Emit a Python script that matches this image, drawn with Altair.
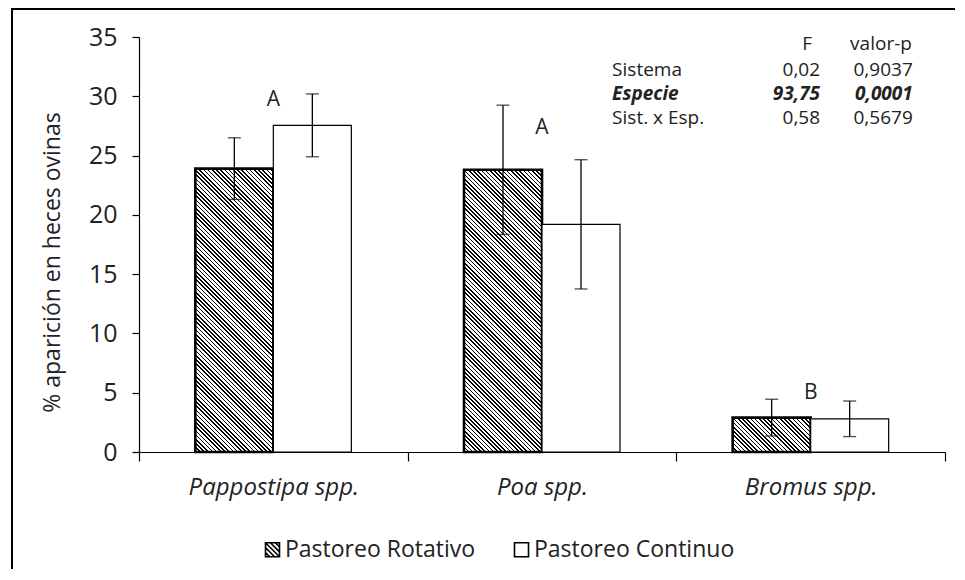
import math
import altair as alt
import pandas as pd

# ---------------- data ----------------
species = ["Pappostipa spp.", "Poa spp.", "Bromus spp."]
systems = ["Pastoreo Rotativo", "Pastoreo Continuo"]
rotativo = [23.9, 23.8, 2.9]
rotativo_err = [2.6, 5.45, 1.55]
continuo = [27.55, 19.2, 2.8]
continuo_err = [2.65, 5.45, 1.5]
letters = ["A", "A", "B"]
letter_y = [29.7, 27.3, 5.0]

table_header = ["F", "valor-p"]
table_rows = ["Sistema", "Especie", "Sist. x Esp."]
table_F = ["0,02", "93,75", "0,58"]
table_p = ["0,9037", "0,0001", "0,5679"]
bold_row = "Especie"

y_title = "% aparición en heces ovinas"
y_ticks = [0, 5, 10, 15, 20, 25, 30, 35]

# ---------------- layout / style ----------------
W, H = 806, 415
YMAX = 35
FONT = "Open Sans"
TXT = "#222222"
OUTER_PAD = 0.722
BAR_W = (W / len(species)) / (2 + 2 * OUTER_PAD)

# table layout (fractions of plot width / data units of the y scale)
col_label, col_F, col_p = 0.587, 0.845, 0.960
col_F_head, col_p_head = 0.829, 0.9206
row_head_y = 34.4
row_ys = [32.22, 30.19, 28.17]

rows = []
for i, sp in enumerate(species):
    rows.append(dict(species=sp, system=systems[0], value=rotativo[i],
                     lo=rotativo[i] - rotativo_err[i], hi=rotativo[i] + rotativo_err[i]))
    rows.append(dict(species=sp, system=systems[1], value=continuo[i],
                     lo=continuo[i] - continuo_err[i], hi=continuo[i] + continuo_err[i]))
bars_df = pd.DataFrame(rows)
letters_df = pd.DataFrame(dict(species=species, letter=letters, y=letter_y))


def hatch(value, spacing=4.2, frac=0.38):
    w = BAR_W
    h = value * H / YMAX
    k = (w + h) / (w * w + h * h)
    x2, y2 = w * k, 1 - h * k
    L = (w + h) / math.sqrt(2)
    P = spacing / math.sqrt(2)
    stops = []
    i = 0
    while i * P < L:
        a = i * P / L
        b = min((i + frac) * P / L, 1.0)
        c = min((i + 1) * P / L, 1.0)
        stops += [alt.GradientStop(color="#000000", offset=round(a, 5)),
                  alt.GradientStop(color="#000000", offset=round(b, 5)),
                  alt.GradientStop(color="#ffffff", offset=round(b, 5)),
                  alt.GradientStop(color="#ffffff", offset=round(c, 5))]
        i += 1
    return alt.LinearGradient(gradient="linear", stops=stops, x1=0, y1=1, x2=x2, y2=y2)


x_enc = alt.X("species:N", sort=species, title=None,
              scale=alt.Scale(domain=species, paddingInner=0, paddingOuter=0),
              axis=alt.Axis(labelFont=FONT, labelFontStyle="italic", labelFontSize=24,
                            labelColor=TXT, labelAngle=0, labelPadding=14, tickBand="extent",
                            tickSize=9, tickColor="black", domainColor="black",
                            domainWidth=1.2, tickWidth=1.2, grid=False))
xo_enc = alt.XOffset("system:N", sort=systems,
                     scale=alt.Scale(domain=systems, paddingInner=0, paddingOuter=OUTER_PAD))
y_axis = alt.Axis(values=y_ticks, grid=False, labelFont=FONT, labelFontSize=25, labelColor=TXT,
                  labelPadding=15, tickSize=7, tickColor="black", domainColor="black",
                  domainWidth=1.2, tickWidth=1.2, titleFont=FONT, titleFontSize=23,
                  titleFontWeight="normal", titleColor=TXT, titlePadding=24, titleY=225)
y_scale = alt.Scale(domain=[0, YMAX], nice=False, zero=True)


def yq(field):
    return alt.Y(field, type="quantitative", scale=y_scale, axis=y_axis, title=y_title)


base = alt.Chart(bars_df)

cont_bars = base.transform_filter(alt.datum.system == systems[1]).mark_bar(
    fill="white", stroke="black", strokeWidth=1.2
).encode(x=x_enc, xOffset=xo_enc, y=yq("value"))

rot_layers = []
for i, sp in enumerate(species):
    rot_layers.append(
        base.transform_filter((alt.datum.system == systems[0]) & (alt.datum.species == sp))
        .mark_bar(fill=hatch(rotativo[i]), stroke="black", strokeWidth=2.6)
        .encode(x=x_enc, xOffset=xo_enc, y=yq("value"))
    )

err_rule = base.mark_rule(color="black", strokeWidth=1.3).encode(
    x=x_enc, xOffset=xo_enc, y=yq("lo"), y2="hi:Q")
cap_lo = base.mark_tick(color="black", size=13, thickness=1.3).encode(
    x=x_enc, xOffset=xo_enc, y=yq("lo"))
cap_hi = base.mark_tick(color="black", size=13, thickness=1.3).encode(
    x=x_enc, xOffset=xo_enc, y=yq("hi"))

letter_layer = alt.Chart(letters_df).mark_text(
    font=FONT, fontSize=21, color=TXT, baseline="middle", align="center"
).encode(x=x_enc, y=yq("y"), text="letter:N")

hatch_path = ("M-1,-1H1V1H-1Z M-1,-1L1,1 M-0.3,-1L1,0.3 M-1,-0.3L0.3,1 "
              "M0.4,-1L1,-0.4 M-1,0.4L-0.4,1")
square_path = "M-1,-1H1V1H-1Z"

legend_layer = base.mark_point(opacity=0, filled=False).encode(
    x=x_enc, xOffset=xo_enc, y=yq("value"),
    shape=alt.Shape("system:N", sort=systems, title=None,
                    scale=alt.Scale(domain=systems, range=[hatch_path, square_path]),
                    legend=alt.Legend(orient="none", legendX=122, legendY=501,
                                      direction="horizontal", symbolFillColor="white",
                                      symbolStrokeColor="black", symbolStrokeWidth=1.6,
                                      symbolOpacity=1, symbolSize=196, labelFont=FONT,
                                      labelFontSize=23, labelColor=TXT, labelOffset=1,
                                      labelLimit=400, columnPadding=34, padding=0))
)

frame = alt.Chart(pd.DataFrame({"f": [0]})).mark_rect(
    fillOpacity=0, stroke="black", strokeWidth=2
).encode(x=alt.value(-127), x2=alt.value(W + 60), y=alt.value(-28), y2=alt.value(H + 200))

inner = alt.layer(*rot_layers, cont_bars, err_rule, cap_lo, cap_hi, letter_layer,
                  legend_layer, frame)

# ---- statistics table ----
tx_scale = alt.Scale(domain=[0, 1])
head_df = pd.DataFrame(dict(tx=[col_F_head, col_p_head], ty=[row_head_y] * 2, t=table_header))
lab_df = pd.DataFrame(dict(tx=[col_label] * 3, ty=row_ys, t=table_rows, row=table_rows))
num_df = pd.DataFrame(dict(tx=[col_F] * 3 + [col_p] * 3, ty=row_ys * 2, t=table_F + table_p,
                           row=table_rows * 2))


def tlayer(df, align, bold=None):
    kw = dict(font=FONT, fontSize=19, color=TXT, baseline="middle", align=align)
    d = alt.Chart(df)
    if bold is True:
        kw.update(fontWeight="bold", fontStyle="italic")
        d = d.transform_filter(alt.datum.row == bold_row)
    elif bold is False:
        d = d.transform_filter(alt.datum.row != bold_row)
    return d.mark_text(**kw).encode(
        x=alt.X("tx:Q", scale=tx_scale, axis=None), y=yq("ty"), text="t:N")


t_head = tlayer(head_df, "center")
t_lab = tlayer(lab_df, "left", False)
t_lab_b = tlayer(lab_df, "left", True)
t_num = tlayer(num_df, "right", False)
t_num_b = tlayer(num_df, "right", True)

chart = alt.layer(inner, t_head, t_lab, t_lab_b, t_num, t_num_b).resolve_scale(
    x="independent"
).properties(
    width=W, height=H,
    padding={"left": 131, "top": 29, "right": 10, "bottom": 117},
    autosize=alt.AutoSizeParams(type="none"),
).configure_view(strokeWidth=0)

chart.save("out.html", embed_options={"renderer": "svg", "actions": False})
